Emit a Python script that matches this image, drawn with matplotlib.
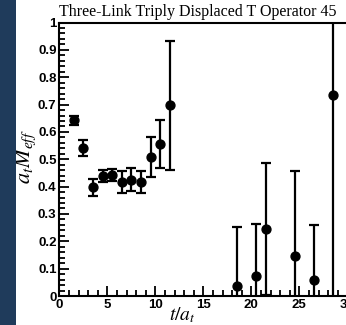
import matplotlib.pyplot as plt
from matplotlib.patches import Rectangle
from matplotlib.ticker import MultipleLocator

# Effective mass points: time slice, a_t M_eff, error
t_slices = [1.5, 2.5, 3.5, 4.5, 5.5, 6.5, 7.5, 8.5, 9.5, 10.5, 11.5,
            18.5, 20.5, 21.5, 24.5, 26.5, 28.5]
m_eff = [0.642, 0.542, 0.397, 0.440, 0.442, 0.417, 0.426, 0.417, 0.508, 0.555, 0.697,
         0.038, 0.073, 0.245, 0.146, 0.058, 0.734]
m_err = [0.018, 0.029, 0.031, 0.022, 0.022, 0.040, 0.042, 0.039, 0.073, 0.087, 0.237,
         0.215, 0.190, 0.242, 0.310, 0.200, 0.750]

titulo = "Three-Link Triply Displaced T Operator 45"

plt.rcParams["mathtext.fontset"] = "stix"

fig = plt.figure(figsize=(3.46, 3.25), dpi=100)

# Franja oscura del lado izquierdo
fig.patches.append(Rectangle((0, 0), 16 / 346, 1, transform=fig.transFigure,
                             facecolor="#1f3b5b", edgecolor="none", zorder=0))

ax = fig.add_axes([0.1714, 0.0892, 0.8324, 0.8415])

ax.errorbar(t_slices, m_eff, yerr=m_err, fmt="o", color="black",
            markersize=6.4, elinewidth=1.6, capsize=3.5, capthick=1.6)

ax.set_xlim(0, 30)
ax.set_ylim(0, 1)
ax.xaxis.set_minor_locator(MultipleLocator(1))
ax.yaxis.set_minor_locator(MultipleLocator(0.02))

ax.set_xticks([0, 5, 10, 15, 20, 25, 30])
ax.set_xticklabels(["0", "5", "10", "15", "20", "25", "30"])
ax.set_yticks([0, 0.1, 0.2, 0.3, 0.4, 0.5, 0.6, 0.7, 0.8, 0.9, 1.0])
ax.set_yticklabels(["0", "0.1", "0.2", "0.3", "0.4", "0.5", "0.6", "0.7", "0.8", "0.9", "1"])

ax.tick_params(which="both", direction="in", top=False, right=False, width=1.3,
               labelsize=9.5, pad=2)
ax.tick_params(which="major", length=7.5)
ax.tick_params(which="minor", length=4)
for lbl in ax.get_xticklabels() + ax.get_yticklabels():
    lbl.set_fontweight("bold")
    lbl.set_family("Liberation Sans")

for sp in ax.spines.values():
    sp.set_linewidth(1.5)

ax.set_xlabel(r"$t/a_t$", fontsize=14)
ax.xaxis.set_label_coords(0.426, -0.035)
ax.set_ylabel(r"$a_t M_{eff}$", fontsize=16)
ax.yaxis.set_label_coords(-0.075, 0.51)

ax.text(0.0, 1.008, titulo, transform=ax.transAxes, ha="left", va="bottom",
        family="Liberation Serif", fontsize=11.5)

fig.savefig("out.png", dpi=100)
